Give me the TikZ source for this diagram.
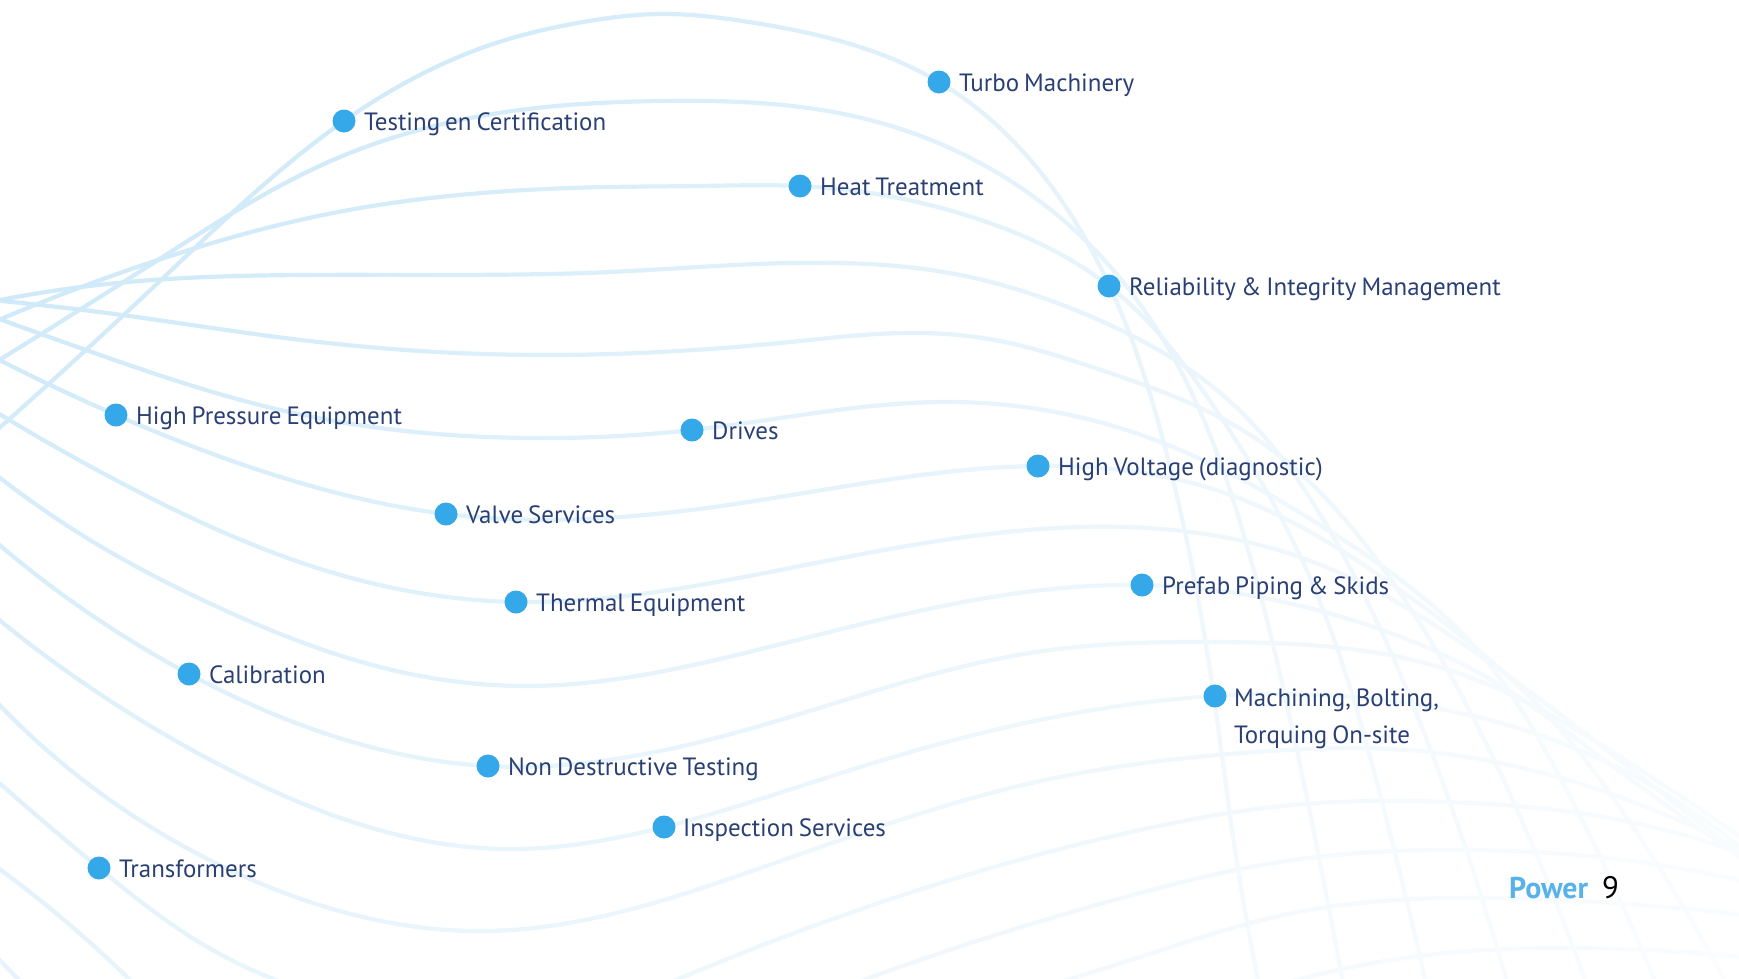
\documentclass[tikz,border=0pt]{standalone}
\usepackage{fontspec}
\setmainfont[WordSpace=0.75,FakeStretch=0.998]{PT Sans}
\usetikzlibrary{fadings,hobby}
\definecolor{wave}{HTML}{C4E5F8}
\definecolor{dotblue}{HTML}{35A8EA}
\definecolor{labelblue}{HTML}{2A4074}
\definecolor{powerblue}{HTML}{58B2EA}
\tikzset{
  wave/.style={draw=wave,line width=4.2pt,line cap=round,use Hobby shortcut},
  dotmark/.style={circle,fill=dotblue,minimum size=23pt,inner sep=0pt},
  lbl/.style={anchor=base west,inner sep=0pt,text=labelblue,font=\fontsize{25}{37}\selectfont,align=left},
}
\tikzfading[name=fadeeast,left color=transparent!100,right color=transparent!0]
\tikzfading[name=fadedown,top color=transparent!100,bottom color=transparent!0]
\begin{document}
\begin{tikzpicture}[x=1pt,y=-1pt]
\useasboundingbox (0,0) rectangle (1739,978);
\clip (0,0) rectangle (1739,978);
\coordinate (pTesting) at (344,121);
\coordinate (pHeat) at (800,186);
\coordinate (pTurbo) at (939,82);
\coordinate (pRel) at (1109,286);
\coordinate (pHP) at (116,415);
\coordinate (pDrives) at (692,430);
\coordinate (pHV) at (1038,466);
\coordinate (pValve) at (446,514);
\coordinate (pThermal) at (516,602);
\coordinate (pPrefab) at (1142,585);
\coordinate (pCal) at (189,674);
\coordinate (pNDT) at (488,766);
\coordinate (pMach) at (1215,696);
\coordinate (pInsp) at (664,827);
\coordinate (pTrans) at (99,868);
% waves
\draw[wave] (-20,445) .. (161,280) .. (pTesting) .. (499,42) .. (583,22) .. (660,14) .. (749,22) .. (pTurbo) .. (1086,240) .. (1170,467) .. (1211,677) .. (1234,843) .. (1262,1000);
\draw[wave] (-20,372) .. (158,260) .. (333,160) .. (499,113) .. (660,101) .. (870,120) .. (1092,247) .. (1175,360) .. (1251,560) .. (1308,803) .. (1346,1000);
\draw[wave] (-20,328) .. (158,260) .. (333,213) .. (610,187) .. (700,186) .. (pHeat) .. (981,220) .. (pRel) .. (1214,407) .. (1302,560) .. (1384,810) .. (1430,1000);
\draw[wave] (-20,304) .. (117,283) .. (300,275) .. (610,272) .. (843,263) .. (960,275) .. (1092,317) .. (1225,397) .. (1346,560) .. (1449,800) .. (1512,1000);
\draw[wave] (-20,299) .. (122,315) .. (277,337) .. (420,351) .. (543,355) .. (790,342) .. (904,333) .. (1000,341) .. (1092,367) .. (1258,440) .. (1377,560) .. (1514,803) .. (1592,1000);
\draw[wave] (-20,312) .. (86,350) .. (289,412) .. (555,438) .. (pDrives) .. (953,402) .. (1147,437) .. (1331,532) .. (1480,653) .. (1556,770) .. (1662,1000);
\draw[wave] (-20,350) .. (pHP) .. (322,489) .. (pValve) .. (721,506) .. (pHV) .. (1225,493) .. (1400,590) .. (1552,720) .. (1633,827) .. (1735,1000);
\draw[wave] (-20,402) .. (133,489) .. (355,579) .. (pThermal) .. (749,576) .. (1081,527) .. (1308,560) .. (1476,653) .. (1636,773) .. (1760,870);
\draw[wave] (-20,462) .. (100,546) .. (222,609) .. (388,669) .. (527,686) .. (749,652) .. (pPrefab) .. (1342,617) .. (1503,687) .. (1591,750) .. (1760,870);
\draw[wave] (-20,528) .. (pCal) .. (333,736) .. (pNDT) .. (749,729) .. (1036,652) .. (1216,642) .. (1449,670) .. (1636,767) .. (1760,850);
\draw[wave] (-20,604) .. (222,766) .. (505,849) .. (pInsp) .. (870,764) .. (pMach) .. (1446,710) .. (1636,777) .. (1760,865);
\draw[wave] (-20,684) .. (250,879) .. (488,931) .. (749,872) .. (1036,782) .. (1255,752) .. (1407,750) .. (1636,803) .. (1760,860);
\draw[wave] (-20,766) .. (pTrans) .. (194,939) .. (340,1000);
\draw[wave] (630,1000) .. (870,906) .. (1140,830) .. (1293,805) .. (1446,802) .. (1579,813) .. (1760,860);
\draw[wave] (-20,855) .. (128,978) .. (150,1000);
\draw[wave] (810,1000) .. (1140,893) .. (1293,860) .. (1446,850) .. (1598,857) .. (1760,885);
\draw[wave] (-20,940) .. (17,978) .. (38,1000);
\draw[wave] (1000,1000) .. (1140,957) .. (1293,913) .. (1446,898) .. (1560,900) .. (1760,917);
\draw[wave] (1230,1000) .. (1304,978) .. (1446,953) .. (1560,948) .. (1760,959);
% progressive paling
\fill[white,path fading=fadeeast,fill opacity=0.85] (-40,-40) rectangle (1779,1018);
\fill[white,path fading=fadedown,fill opacity=0.6] (-40,-40) rectangle (1779,1018);
% dots and labels
\node[dotmark] (dTesting) at (pTesting) {};
\node[dotmark] (dHeat) at (pHeat) {};
\node[dotmark] (dTurbo) at (pTurbo) {};
\node[dotmark] (dRel) at (pRel) {};
\node[dotmark] (dHP) at (pHP) {};
\node[dotmark] (dDrives) at (pDrives) {};
\node[dotmark] (dHV) at (pHV) {};
\node[dotmark] (dValve) at (pValve) {};
\node[dotmark] (dThermal) at (pThermal) {};
\node[dotmark] (dPrefab) at (pPrefab) {};
\node[dotmark] (dCal) at (pCal) {};
\node[dotmark] (dNDT) at (pNDT) {};
\node[dotmark] (dMach) at (pMach) {};
\node[dotmark] (dInsp) at (pInsp) {};
\node[dotmark] (dTrans) at (pTrans) {};
\node[lbl] (tTesting) at (364,130) {Testing en Certification};
\node[lbl] (tHeat) at (820,195) {Heat Treatment};
\node[lbl] (tTurbo) at (959,91) {Turbo Machinery};
\node[lbl] (tRel) at (1129,295) {Reliability \& Integrity Management};
\node[lbl] (tHP) at (136,424) {High Pressure Equipment};
\node[lbl] (tDrives) at (712,439) {Drives};
\node[lbl] (tHV) at (1058,475) {High Voltage (diagnostic)};
\node[lbl] (tValve) at (466,523) {Valve Services};
\node[lbl] (tThermal) at (536,611) {Thermal Equipment};
\node[lbl] (tPrefab) at (1162,594) {Prefab Piping \& Skids};
\node[lbl] (tCal) at (209,683) {Calibration};
\node[lbl] (tNDT) at (508,775) {Non Destructive Testing};
\node[lbl] (tMach) at (1234,706) {Machining, Bolting,};
\node[lbl] (tMachB) at (1234,743) {Torquing On-site};
\node[lbl] (tInsp) at (683,836) {Inspection Services};
\node[lbl] (tTrans) at (119,877) {Transformers};
\node[lbl,text=powerblue,font=\fontsize{30}{32}\selectfont\bfseries] (tPower) at (1509,898) {Power};
\node[lbl,text=black,font=\fontsize{31}{32}\selectfont] (tNum) at (1602,898) {9};
\end{tikzpicture}
\end{document}
